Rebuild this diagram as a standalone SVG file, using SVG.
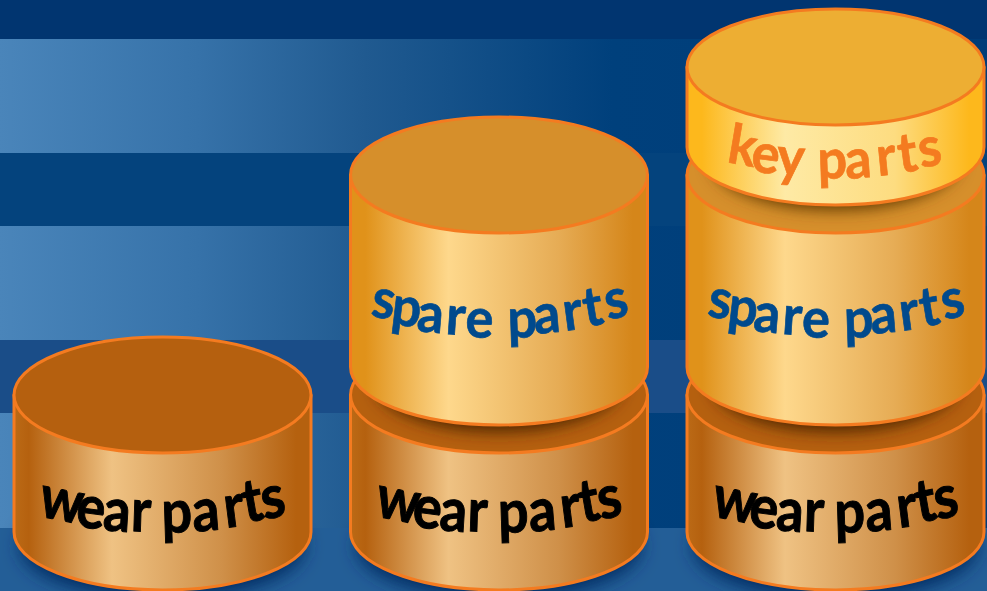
<svg xmlns="http://www.w3.org/2000/svg" width="987" height="591" viewBox="0 0 987 591">
<style>
.edge{stroke:#f47b20;stroke-width:3;stroke-linejoin:round}
.lbl{font-family:Lato,"Open Sans",sans-serif;font-weight:700}
.w{font-size:60px;fill:#000;stroke:#000;stroke-width:1}
.s{font-size:55px;fill:#004a8d;stroke:#004a8d;stroke-width:.7}
.k{font-size:55px;fill:#f47b20;stroke:#f47b20;stroke-width:.7}
.topW{fill:#b5600f}.topS{fill:#d68f2b}.topK{fill:#edae33}
</style>
<defs>
<linearGradient id="band" x1="0" x2="987" y1="0" y2="0" gradientUnits="userSpaceOnUse">
<stop offset="0" stop-color="#4a85ba"/><stop offset=".2" stop-color="#3672a9"/><stop offset=".37" stop-color="#205a90"/><stop offset=".62" stop-color="#00407c"/><stop offset="1" stop-color="#003c78"/>
</linearGradient>
<linearGradient id="gW"><stop offset="0" stop-color="#bb6a16"/><stop offset=".05" stop-color="#b5610f"/><stop offset=".33" stop-color="#efc283"/><stop offset=".7" stop-color="#cf9049"/><stop offset=".95" stop-color="#b5610f"/><stop offset="1" stop-color="#b5610f"/></linearGradient>
<linearGradient id="gS"><stop offset="0" stop-color="#e0921a"/><stop offset=".05" stop-color="#e0921a"/><stop offset=".33" stop-color="#fed88c"/><stop offset=".7" stop-color="#e6ac55"/><stop offset=".95" stop-color="#d5861a"/><stop offset="1" stop-color="#d5861a"/></linearGradient>
<linearGradient id="gK"><stop offset="0" stop-color="#fdb81c"/><stop offset=".05" stop-color="#fdb81c"/><stop offset=".33" stop-color="#feeaa5"/><stop offset=".7" stop-color="#fddc80"/><stop offset=".95" stop-color="#fdb81c"/><stop offset="1" stop-color="#fdb81c"/></linearGradient>
<filter id="blur" x="-20%" y="-50%" width="140%" height="200%"><feGaussianBlur stdDeviation="9"/></filter>
<filter id="blur2" x="-20%" y="-50%" width="140%" height="200%"><feGaussianBlur stdDeviation="8"/></filter>
<clipPath id="c2"><ellipse cx="499" cy="395" rx="148.500" ry="58"/></clipPath>
<clipPath id="c3"><ellipse cx="835.500" cy="395" rx="148.500" ry="58"/></clipPath>
<clipPath id="c4"><ellipse cx="835.500" cy="175" rx="148.500" ry="58"/></clipPath>
</defs>
<g id="background">
<rect width="987" height="591" fill="#003c78"/>
<rect width="987" height="39" fill="#013570"/>
<rect y="39" width="987" height="114" fill="url(#band)"/>
<rect y="153" width="987" height="73" fill="#04437d"/>
<rect y="226" width="987" height="114" fill="url(#band)"/>
<rect y="340" width="987" height="73" fill="#1a4d88"/>
<rect y="413" width="987" height="115" fill="url(#band)"/>
<rect y="528" width="987" height="63" fill="#235e97"/>
<ellipse cx="162.500" cy="546" rx="142" ry="52" fill="#002c60" filter="url(#blur)"/>
<ellipse cx="499" cy="546" rx="142" ry="52" fill="#002c60" filter="url(#blur)"/>
<ellipse cx="835.500" cy="546" rx="142" ry="52" fill="#002c60" filter="url(#blur)"/>
</g>
<g id="connectors"/>
<g id="wear-1">
<path class="edge" fill="url(#gW)" d="M14 395V532A148.500 58 0 0 0 311 532V395Z"/>
<ellipse class="edge topW" cx="162.500" cy="395" rx="148.500" ry="58"/>
<text class="lbl w" transform="scale(.9 1)" x="42 83 113.500 145 164.400 180 215 251 273 294" y="516 526 530 531 532 533 532 528 523 520" rotate="10 7 4 2 0 -2 -5 -8 -11 -12">wear parts</text>
</g>
<g id="wear-2">
<path class="edge" fill="url(#gW)" d="M350.500 395V532A148.500 58 0 0 0 647.500 532V395Z"/>
<ellipse class="topW" cx="499" cy="395" rx="148.500" ry="58"/>
<g clip-path="url(#c2)"><ellipse cx="499" cy="382" rx="124" ry="50" fill="#4f2502" filter="url(#blur2)"/></g>
<ellipse class="edge" fill="none" cx="499" cy="395" rx="148.500" ry="58"/>
<text class="lbl w" transform="translate(336.500 0) scale(.9 1)" x="42 83 113.500 145 164.400 180 215 251 273 294" y="516 526 530 531 532 533 532 528 523 520" rotate="10 7 4 2 0 -2 -5 -8 -11 -12">wear parts</text>
</g>
<g id="spare-2">
<path class="edge" fill="url(#gS)" d="M350.500 175V367A148.500 58 0 0 0 647.500 367V175Z"/>
<ellipse class="edge topS" cx="499" cy="175" rx="148.500" ry="58"/>
<text class="lbl s" transform="scale(.95 1)" x="389.500 410.500 437.900 468.400 489.500 520 534.700 563.200 594.700 616.800 640" y="316 324 331 334 337 337 338 334 331 327 320" rotate="9 7 5 4 2 0 -2 -5 -8 -10 -12">spare parts</text>
</g>
<g id="wear-3">
<path class="edge" fill="url(#gW)" d="M687 395V532A148.500 58 0 0 0 984 532V395Z"/>
<ellipse class="topW" cx="835.500" cy="395" rx="148.500" ry="58"/>
<g clip-path="url(#c3)"><ellipse cx="835.500" cy="382" rx="124" ry="50" fill="#4f2502" filter="url(#blur2)"/></g>
<ellipse class="edge" fill="none" cx="835.500" cy="395" rx="148.500" ry="58"/>
<text class="lbl w" transform="translate(673 0) scale(.9 1)" x="42 83 113.500 145 164.400 180 215 251 273 294" y="516 526 530 531 532 533 532 528 523 520" rotate="10 7 4 2 0 -2 -5 -8 -11 -12">wear parts</text>
</g>
<g id="spare-3">
<path class="edge" fill="url(#gS)" d="M687 175V367A148.500 58 0 0 0 984 367V175Z"/>
<ellipse class="topS" cx="835.500" cy="175" rx="148.500" ry="58"/>
<g clip-path="url(#c4)"><ellipse cx="835.500" cy="160" rx="124" ry="50" fill="#5e3804" filter="url(#blur2)"/></g>
<ellipse class="edge" fill="none" cx="835.500" cy="175" rx="148.500" ry="58"/>
<text class="lbl s" transform="translate(336.500 0) scale(.95 1)" x="389.500 410.500 437.900 468.400 489.500 520 534.700 563.200 594.700 616.800 640" y="316 324 331 334 337 337 338 334 331 327 320" rotate="9 7 5 4 2 0 -2 -5 -8 -10 -12">spare parts</text>
</g>
<g id="key-3">
<path class="edge" fill="url(#gK)" d="M687 67V147A148.500 58 0 0 0 984 147V67Z"/>
<ellipse class="edge topK" cx="835.500" cy="67" rx="148.500" ry="58"/>
<text class="lbl k" transform="scale(.95 1)" x="764.200 789.500 816.800 853.700 861.100 890.500 924.200 947.400 969.500" y="162 171 175 178 179 179 176 173 168" rotate="10 7 4 0 -2 -4 -6 -8 -10">key parts</text>
</g>
</svg>
